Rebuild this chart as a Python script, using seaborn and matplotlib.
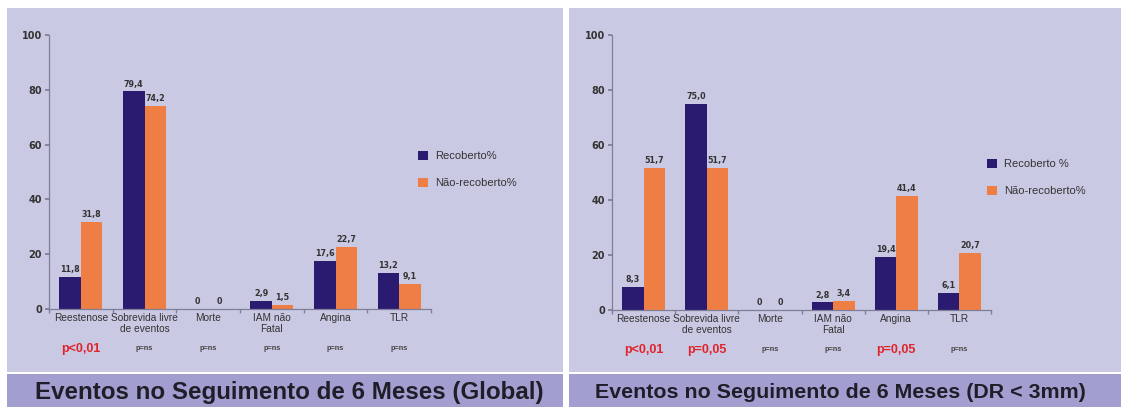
import matplotlib
matplotlib.use("Agg")
import matplotlib.pyplot as plt
from matplotlib.patches import Rectangle
import seaborn as sns
import pandas as pd

sns.set_theme(style="white")
plt.rcParams["font.family"] = ["Liberation Sans", "DejaVu Sans"]

# Data
categorias = ["Reestenose", "Sobrevida livre\nde eventos", "Morte", "IAM não\nFatal", "Angina", "TLR"]

global_recoberto = [11.8, 79.4, 0, 2.9, 17.6, 13.2]
global_nao_recoberto = [31.8, 74.2, 0, 1.5, 22.7, 9.1]
global_p = ["p<0,01", "p=ns", "p=ns", "p=ns", "p=ns", "p=ns"]
global_series = ["Recoberto%", "Não-recoberto%"]
global_titulo = "Eventos no Seguimento de 6 Meses (Global)"

dr_recoberto = [8.3, 75.0, 0, 2.8, 19.4, 6.1]
dr_nao_recoberto = [51.7, 51.7, 0, 3.4, 41.4, 20.7]
dr_p = ["p<0,01", "p=0,05", "p=ns", "p=ns", "p=0,05", "p=ns"]
dr_series = ["Recoberto %", "Não-recoberto%"]
dr_titulo = "Eventos no Seguimento de 6 Meses (DR < 3mm)"

yticks = [0, 20, 40, 60, 80, 100]

NAVY = "#2A1A70"
ORANGE = "#EF7E45"
PANEL = "#C9C9E4"
BANNER = "#A29ED0"
AXIS = "#7E7E98"
TEXT = "#333333"
RED = "#E0242A"

W, H = 1123, 407
fig = plt.figure(figsize=(W / 100, H / 100), dpi=100)
fig.patch.set_facecolor("white")


def px_rect(x0, y0, x1, y1, color):
    fig.patches.append(Rectangle((x0 / W, 1 - y1 / H), (x1 - x0) / W, (y1 - y0) / H,
                                 transform=fig.transFigure, facecolor=color,
                                 edgecolor="none", zorder=-5))


def painel(ax_px, bg_px, banner_px, rec, nao, pvals, series, titulo, title_x,
           title_size, leg_px):
    px_rect(*bg_px, PANEL)
    px_rect(*banner_px, BANNER)
    bx0, by0, bx1, by1 = banner_px
    fig.text(title_x / W, 1 - (by0 + by1) / 2 / H - 0.004, titulo,
             ha="center", va="center", fontsize=title_size, fontweight="bold",
             color="#1E1E28")

    x0, ytop, x1, ybot = ax_px
    ax = fig.add_axes([x0 / W, 1 - ybot / H, (x1 - x0) / W, (ybot - ytop) / H])
    ax.set_facecolor("none")
    ax.set_zorder(2)

    df = pd.DataFrame({
        "categoria": categorias * 2,
        "valor": rec + nao,
        "serie": [series[0]] * len(categorias) + [series[1]] * len(categorias),
    })
    sns.barplot(data=df, x="categoria", y="valor", hue="serie", order=categorias,
                hue_order=series, palette=[NAVY, ORANGE], width=0.68,
                saturation=1, ax=ax, legend=True, edgecolor="none", linewidth=0)

    for cont, vals in zip(ax.containers, [rec, nao]):
        labels = ["0" if v == 0 else f"{v:.1f}".replace(".", ",") for v in vals]
        ax.bar_label(cont, labels=labels, padding=2, fontsize=5.8,
                     fontweight="bold", color=TEXT, family="DejaVu Sans")

    ax.set_xlim(-0.5, len(categorias) - 0.5)
    ax.set_ylim(0, 100)
    ax.set_yticks(yticks)
    ax.set_yticklabels([str(t) for t in yticks], fontsize=7, fontweight="bold",
                       color=TEXT, family="DejaVu Sans")
    ax.set_xticks(range(len(categorias)))
    ax.set_xticklabels(categorias, fontsize=7.3, color=TEXT, linespacing=1.15)
    ax.set_xticks([i - 0.5 for i in range(len(categorias) + 1)], minor=True)
    ax.tick_params(axis="x", which="major", length=0, pad=3)
    ax.tick_params(axis="x", which="minor", length=3, color=AXIS, direction="out",
                   bottom=True)
    ax.tick_params(axis="y", length=3, color=AXIS, direction="out", pad=2, left=True)
    ax.set_xlabel("")
    ax.set_ylabel("")
    for s in ["top", "right"]:
        ax.spines[s].set_visible(False)
    for s in ["left", "bottom"]:
        ax.spines[s].set_color(AXIS)
        ax.spines[s].set_linewidth(0.9)

    # p-values below category labels
    for i, p in enumerate(pvals):
        if p == "p=ns":
            ax.text(i, -14.5, p, ha="center", va="center", fontsize=5.3,
                    fontweight="bold", color="#444444", clip_on=False)
        else:
            ax.text(i, -14.5, p, ha="center", va="center", fontsize=9,
                    fontweight="bold", color=RED, clip_on=False)

    handles, labels = ax.get_legend_handles_labels()
    ax.legend_.remove()
    lx, ly = leg_px
    leg = fig.legend(handles, labels, loc="upper left",
                     bbox_to_anchor=(lx / W, 1 - ly / H),
                     frameon=False, fontsize=8, handlelength=0.9, handleheight=0.9,
                     handletextpad=0.6, labelspacing=1.45, labelcolor=TEXT,
                     borderpad=0, borderaxespad=0)
    for h in leg.legend_handles:
        h.set_edgecolor("none")
    return ax


painel((49, 35, 431, 309), (7, 8, 563, 372), (7, 374, 563, 407),
       global_recoberto, global_nao_recoberto, global_p, global_series,
       global_titulo, 289, 17.4, (418, 151))
painel((612, 35, 991, 310), (569, 8, 1121, 372), (569, 374, 1121, 407),
       dr_recoberto, dr_nao_recoberto, dr_p, dr_series, dr_titulo, 840, 15.4, (987, 159))

fig.savefig("out.png", dpi=100, facecolor=fig.get_facecolor())
